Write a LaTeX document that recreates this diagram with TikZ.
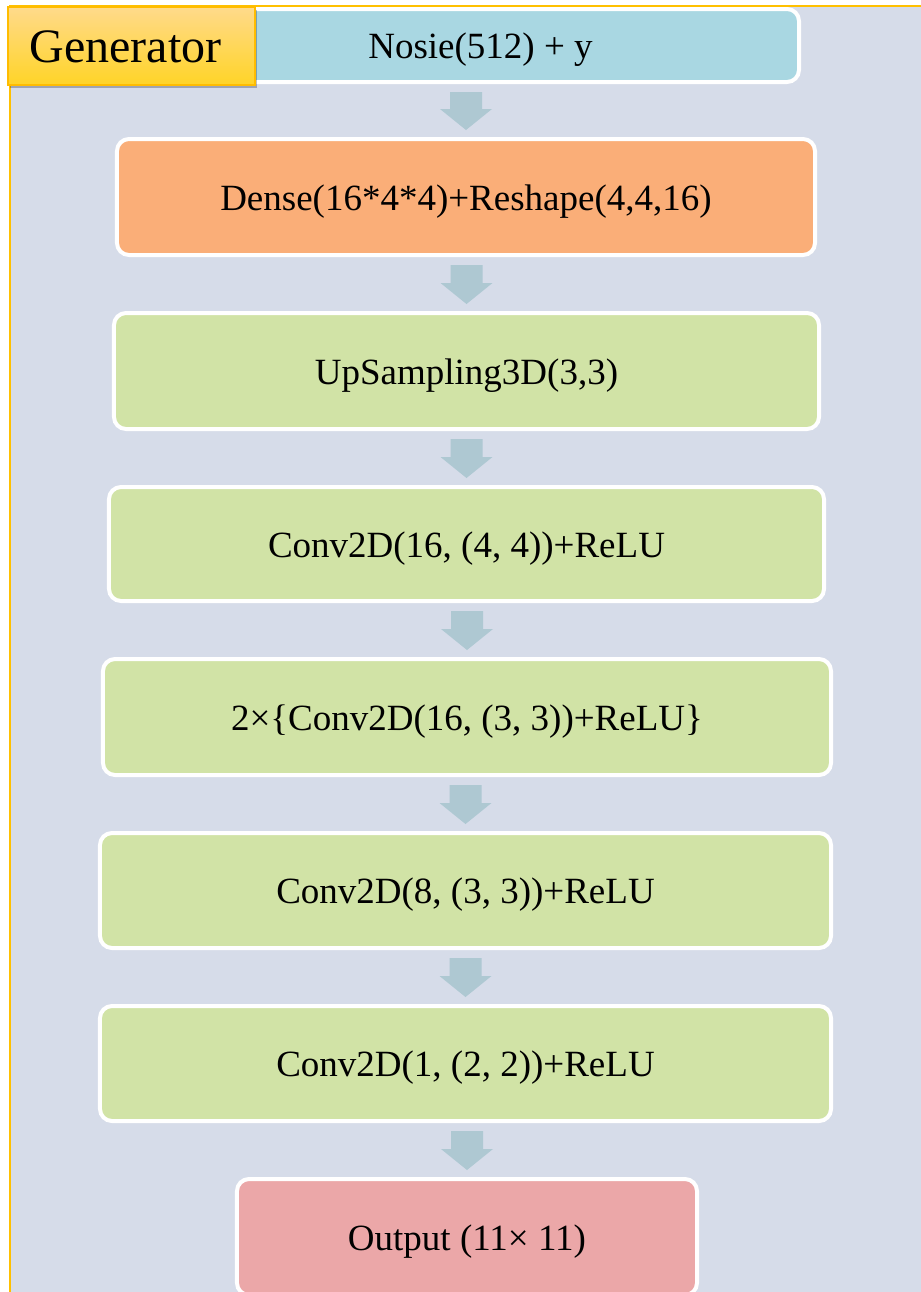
\documentclass[tikz,border=0pt]{standalone}
\usepackage{fontspec}
\setmainfont{Liberation Serif}
\usetikzlibrary{calc,shadows}

\definecolor{panelbg}{HTML}{D6DCE9}
\definecolor{panelline}{HTML}{FFC000}
\definecolor{inputfill}{HTML}{A9D7E2}
\definecolor{densefill}{HTML}{FAAE78}
\definecolor{layerfill}{HTML}{D1E3A6}
\definecolor{outfill}{HTML}{EBA7A8}
\definecolor{arrowfill}{HTML}{AEC8D2}
\definecolor{tagtop}{HTML}{FFDA8B}
\definecolor{tagbottom}{HTML}{FFD427}
\definecolor{tagline}{HTML}{FFBC00}

\tikzset{
  layerbox/.style={draw=white, line width=4bp, rounded corners=12bp,
    inner sep=0pt, text=black, text height=26bp, text depth=0pt,
    font=\fontsize{37bp}{40bp}\selectfont},
  tagbox/.style={draw=tagline, line width=2.5bp, top color=tagtop,
    bottom color=tagbottom, inner sep=0pt, text=black,
    text height=33bp, text depth=0pt,
    font=\fontsize{48bp}{52bp}\selectfont,
    drop shadow={shadow xshift=2bp, shadow yshift=-3bp, opacity=0.25, fill=black}},
}

% block arrow from the bottom of one layer to the top of the next
\newcommand\flowarrow[2]{%
  \path let \p1=($(#1.south)+(0,8)$), \p2=($(#2.north)+(0,-7)$) in
    [fill=arrowfill]
    (\x2-16bp,\y1) -- (\x2+16bp,\y1) -- (\x2+16bp,\y2+21bp)
    -- (\x2+26bp,\y2+21bp) -- (\x2,\y2) -- (\x2-26bp,\y2+21bp)
    -- (\x2-16bp,\y2+21bp) -- cycle;}

\begin{document}
\begin{tikzpicture}[x=1bp,y=-1bp]
  \useasboundingbox (0,0) rectangle (921,1292);
  \clip (0,0) rectangle (921,1292);

  % panel
  \fill[panelbg] (10,6) rectangle (940,1310);
  \draw[panelline, line width=2bp] (10,1310) -- (10,6) -- (940,6);

  % layers
  \node[layerbox, fill=inputfill, minimum width=637bp, minimum height=73bp]
    (in) at (480.5,45.5) {Nosie(512) + y};
  \node[layerbox, fill=densefill, minimum width=698bp, minimum height=116bp]
    (dense) at (466,197) {Dense(16*4*4)+Reshape(4,4,16)};
  \node[layerbox, fill=layerfill, minimum width=705bp, minimum height=116bp]
    (up) at (466.5,371) {UpSampling3D(3,3)};
  \node[layerbox, fill=layerfill, minimum width=715bp, minimum height=114bp]
    (c1) at (466.5,544) {Conv2D(16, (4, 4))+ReLU};
  \node[layerbox, fill=layerfill, minimum width=728bp, minimum height=116bp]
    (c2) at (467,717) {2×\{Conv2D(16, (3, 3))+ReLU\}};
  \node[layerbox, fill=layerfill, minimum width=731bp, minimum height=115bp]
    (c3) at (465.5,890.5) {Conv2D(8, (3, 3))+ReLU};
  \node[layerbox, fill=layerfill, minimum width=731bp, minimum height=115bp]
    (c4) at (465.5,1063.5) {Conv2D(1, (2, 2))+ReLU};
  \node[layerbox, fill=outfill, minimum width=460bp, minimum height=116bp]
    (out) at (467,1237) {Output (11× 11)};

  % connectors
  \flowarrow{in}{dense}
  \flowarrow{dense}{up}
  \flowarrow{up}{c1}
  \flowarrow{c1}{c2}
  \flowarrow{c2}{c3}
  \flowarrow{c3}{c4}
  \flowarrow{c4}{out}

  % title tag
  \node[tagbox, minimum width=247bp, minimum height=78bp]
    (tag) at (131.5,46) {Generator\hspace*{12bp}};
\end{tikzpicture}
\end{document}
